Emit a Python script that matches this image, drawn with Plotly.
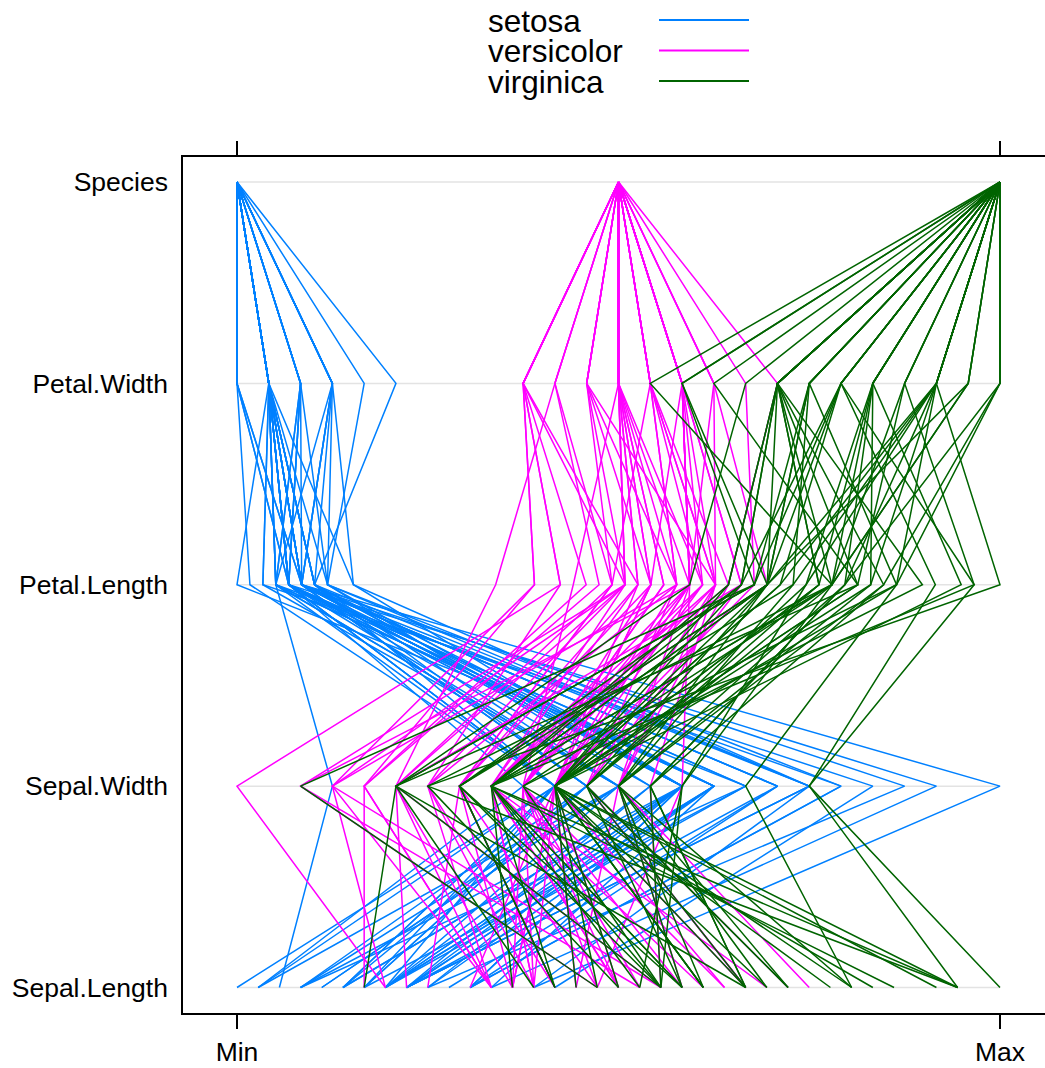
import plotly.graph_objects as go

species_names = ["setosa", "versicolor", "virginica"]
species_sizes = [50, 50, 50]
var_names = ["Sepal.Length", "Sepal.Width", "Petal.Length", "Petal.Width", "Species"]
colors = ["#0080ff", "#ff00ff", "#006400"]

sepal_length = [
    5.1,4.9,4.7,4.6,5.0,5.4,4.6,5.0,4.4,4.9,5.4,4.8,4.8,4.3,5.8,5.7,5.4,5.1,5.7,5.1,
    5.4,5.1,4.6,5.1,4.8,5.0,5.0,5.2,5.2,4.7,4.8,5.4,5.2,5.5,4.9,5.0,5.5,4.9,4.4,5.1,
    5.0,4.5,4.4,5.0,5.1,4.8,5.1,4.6,5.3,5.0,
    7.0,6.4,6.9,5.5,6.5,5.7,6.3,4.9,6.6,5.2,5.0,5.9,6.0,6.1,5.6,6.7,5.6,5.8,6.2,5.6,
    5.9,6.1,6.3,6.1,6.4,6.6,6.8,6.7,6.0,5.7,5.5,5.5,5.8,6.0,5.4,6.0,6.7,6.3,5.6,5.5,
    5.5,6.1,5.8,5.0,5.6,5.7,5.7,6.2,5.1,5.7,
    6.3,5.8,7.1,6.3,6.5,7.6,4.9,7.3,6.7,7.2,6.5,6.4,6.8,5.7,5.8,6.4,6.5,7.7,7.7,6.0,
    6.9,5.6,7.7,6.3,6.7,7.2,6.2,6.1,6.4,7.2,7.4,7.9,6.4,6.3,6.1,7.7,6.3,6.4,6.0,6.9,
    6.7,6.9,5.8,6.8,6.7,6.7,6.3,6.5,6.2,5.9,
]
sepal_width = [
    3.5,3.0,3.2,3.1,3.6,3.9,3.4,3.4,2.9,3.1,3.7,3.4,3.0,3.0,4.0,4.4,3.9,3.5,3.8,3.8,
    3.4,3.7,3.6,3.3,3.4,3.0,3.4,3.5,3.4,3.2,3.1,3.4,4.1,4.2,3.1,3.2,3.5,3.6,3.0,3.4,
    3.5,2.3,3.2,3.5,3.8,3.0,3.8,3.2,3.7,3.3,
    3.2,3.2,3.1,2.3,2.8,2.8,3.3,2.4,2.9,2.7,2.0,3.0,2.2,2.9,2.9,3.1,3.0,2.7,2.2,2.5,
    3.2,2.8,2.5,2.8,2.9,3.0,2.8,3.0,2.9,2.6,2.4,2.4,2.7,2.7,3.0,3.4,3.1,2.3,3.0,2.5,
    2.6,3.0,2.6,2.3,2.7,3.0,2.9,2.9,2.5,2.8,
    3.3,2.7,3.0,2.9,3.0,3.0,2.5,2.9,2.5,3.6,3.2,2.7,3.0,2.5,2.8,3.2,3.0,3.8,2.6,2.2,
    3.2,2.8,2.8,2.7,3.3,3.2,2.8,3.0,2.8,3.0,2.8,3.8,2.8,2.8,2.6,3.0,3.4,3.1,3.0,3.1,
    3.1,3.1,2.7,3.2,3.3,3.0,2.5,3.0,3.4,3.0,
]
petal_length = [
    1.4,1.4,1.3,1.5,1.4,1.7,1.4,1.5,1.4,1.5,1.5,1.6,1.4,1.1,1.2,1.5,1.3,1.4,1.7,1.5,
    1.7,1.5,1.0,1.7,1.9,1.6,1.6,1.5,1.4,1.6,1.6,1.5,1.5,1.4,1.5,1.2,1.3,1.4,1.3,1.5,
    1.3,1.3,1.3,1.6,1.9,1.4,1.6,1.4,1.5,1.4,
    4.7,4.5,4.9,4.0,4.6,4.5,4.7,3.3,4.6,3.9,3.5,4.2,4.0,4.7,3.6,4.4,4.5,4.1,4.5,3.9,
    4.8,4.0,4.9,4.7,4.3,4.4,4.8,5.0,4.5,3.5,3.8,3.7,3.9,5.1,4.5,4.5,4.7,4.4,4.1,4.0,
    4.4,4.6,4.0,3.3,4.2,4.2,4.2,4.3,3.0,4.1,
    6.0,5.1,5.9,5.6,5.8,6.6,4.5,6.3,5.8,6.1,5.1,5.3,5.5,5.0,5.1,5.3,5.5,6.7,6.9,5.0,
    5.7,4.9,6.7,4.9,5.7,6.0,4.8,4.9,5.6,5.8,6.1,6.4,5.6,5.1,5.6,6.1,5.6,5.5,4.8,5.4,
    5.6,5.1,5.1,5.9,5.7,5.2,5.0,5.2,5.4,5.1,
]
petal_width = [
    0.2,0.2,0.2,0.2,0.2,0.4,0.3,0.2,0.2,0.1,0.2,0.2,0.1,0.1,0.2,0.4,0.4,0.3,0.3,0.3,
    0.2,0.4,0.2,0.5,0.2,0.2,0.4,0.2,0.2,0.2,0.2,0.4,0.1,0.2,0.2,0.2,0.2,0.1,0.2,0.2,
    0.3,0.3,0.2,0.6,0.4,0.3,0.2,0.2,0.2,0.2,
    1.4,1.5,1.5,1.3,1.5,1.3,1.6,1.0,1.3,1.4,1.0,1.5,1.0,1.4,1.3,1.4,1.5,1.0,1.5,1.1,
    1.8,1.3,1.5,1.2,1.3,1.4,1.4,1.7,1.5,1.0,1.1,1.0,1.2,1.6,1.5,1.6,1.5,1.3,1.3,1.3,
    1.2,1.4,1.2,1.0,1.3,1.2,1.3,1.3,1.1,1.3,
    2.5,1.9,2.1,1.8,2.2,2.1,1.7,1.8,1.8,2.5,2.0,1.9,2.1,2.0,2.4,2.3,1.8,2.2,2.3,1.5,
    2.3,2.0,2.0,1.8,2.1,1.8,1.8,1.8,2.1,1.6,1.9,2.0,2.2,1.5,1.4,2.3,2.4,1.8,1.8,2.1,
    2.4,2.3,1.9,2.3,2.5,2.3,1.9,2.0,2.3,1.8,
]

# species codes 1..3 per row
species_code = []
for k, n in enumerate(species_sizes):
    species_code += [k + 1] * n

columns = [sepal_length, sepal_width, petal_length, petal_width, species_code]


def rescale(col):
    lo, hi = min(col), max(col)
    return [(v - lo) / (hi - lo) for v in col]


scaled = [rescale(c) for c in columns]
ys = list(range(len(var_names)))

# figure is a bit wider than the window so the panel's right border falls off-page
W, H = 1062, 1068
ML, MR, MT, MB = 183, 0, 157, 55
PW, PH = W - ML - MR, H - MT - MB
X0_PX, X1_PX = 237, 1000
Y_TOP_PX, Y_BOT_PX = 182, 987.5

xscale = (X1_PX - X0_PX)
xr = [-(X0_PX - ML) / xscale, 1 + (W - MR - X1_PX) / xscale]
yscale = (Y_BOT_PX - Y_TOP_PX) / (len(var_names) - 1)
yr = [-(H - MB - Y_BOT_PX) / yscale, (len(var_names) - 1) + (Y_TOP_PX - MT) / yscale]

fig = go.Figure()

# reference lines (only between min and max)
gx, gy = [], []
for y in ys:
    gx += [0, 1, None]
    gy += [y, y, None]
fig.add_trace(go.Scatter(x=gx, y=gy, mode="lines", line=dict(color="#e3e3e3", width=1.5),
                         hoverinfo="skip", showlegend=False))

start = 0
for k, name in enumerate(species_names):
    n = species_sizes[k]
    xs, yy = [], []
    for i in range(start, start + n):
        for j in ys:
            xs.append(scaled[j][i])
            yy.append(j)
        xs.append(None)
        yy.append(None)
    start += n
    fig.add_trace(go.Scatter(x=xs, y=yy, mode="lines", name=name,
                             line=dict(color=colors[k], width=1.5), showlegend=False))


def px_to_paper_y(py):
    return (H - MB - py) / PH


def px_to_paper_x(px):
    return (px - ML) / PW


legend_line_y = [20, 50.5, 81]
for k, name in enumerate(species_names):
    fig.add_annotation(x=px_to_paper_x(486), y=px_to_paper_y(legend_line_y[k] + 1),
                       xref="paper", yref="paper", text=name, showarrow=False,
                       xanchor="left", yanchor="middle",
                       font=dict(family="Liberation Sans, Arial", size=31.5, color="black"))
    fig.add_shape(type="line", xref="paper", yref="paper",
                  x0=px_to_paper_x(659), x1=px_to_paper_x(749),
                  y0=px_to_paper_y(legend_line_y[k]), y1=px_to_paper_y(legend_line_y[k]),
                  line=dict(color=colors[k], width=2))

fig.update_layout(
    width=W, height=H,
    margin=dict(l=ML, r=MR, t=MT, b=MB, pad=0),
    paper_bgcolor="white", plot_bgcolor="white",
    font=dict(family="Liberation Sans, Arial", size=26.5, color="black"),
    showlegend=False,
    xaxis=dict(range=xr, tickvals=[0, 1], ticktext=["Min", "Max"], showgrid=False,
               zeroline=False, showline=True, linecolor="black", linewidth=1.5,
               mirror="ticks", ticks="outside", ticklen=14, tickwidth=1.5, tickcolor="black",
               tickfont=dict(size=26.5)),
    yaxis=dict(range=yr, tickvals=ys, ticktext=var_names, showgrid=False, zeroline=False,
               showline=True, linecolor="black", linewidth=1.5, ticks="", ticklabelstandoff=8,
               tickfont=dict(size=26.5)),
)

fig.write_html("out.html", config={"displayModeBar": False},
               post_script="document.body.style.margin='0';document.body.style.overflow='hidden';")
